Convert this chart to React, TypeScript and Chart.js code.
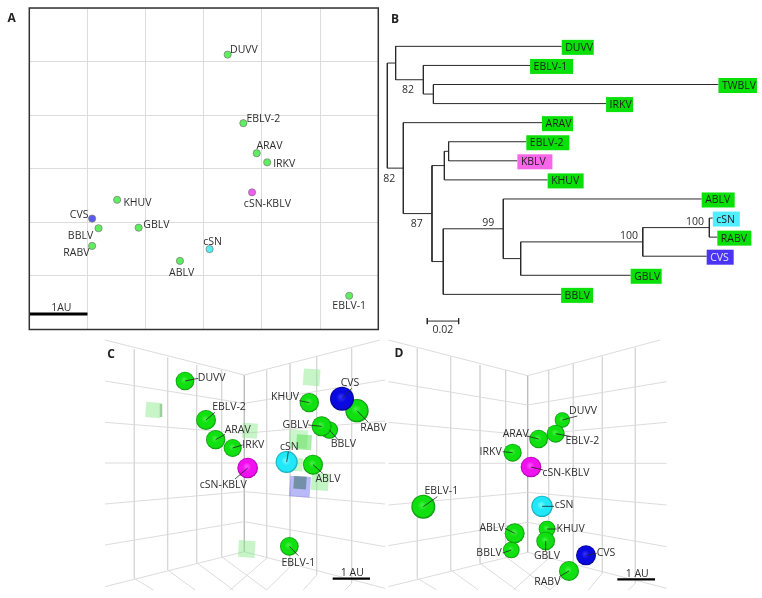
import React, { useEffect, useRef } from "react";
import { Chart, registerables } from "chart.js";

Chart.register(...registerables);

const FONT = '"Open Sans", sans-serif';
const TEXT = "#2e2e2e";
const GREEN = "#5fee5f";

// ---- Panel A: 2D antigenic map (AU)
const mapNames = ["DUVV", "EBLV-2", "ARAV", "IRKV", "cSN-KBLV", "KHUV", "CVS", "BBLV", "GBLV", "RABV", "cSN", "ABLV", "EBLV-1"];
const mapX = [3.41, 3.68, 3.91, 4.09, 3.83, 1.51, 1.08, 1.19, 1.88, 1.08, 3.1, 2.59, 5.5];
const mapY = [5.13, 3.85, 3.29, 3.12, 2.56, 2.42, 2.07, 1.89, 1.9, 1.56, 1.5, 1.28, 0.63];
const mapColors = [GREEN, GREEN, GREEN, GREEN, "#f05cf0", GREEN, "#5a5af0", GREEN, GREEN, GREEN, "#58eef0", GREEN, GREEN];
const mapLabelDx = [16.3, 20, 12.7, 17, 15.3, 20.3, -13, -18, 17.7, -15.7, 3, 1.7, 0];
const mapLabelDy = [-5, -4.3, -7.3, 1.3, 12, 2.7, -4, 7.7, -3, 6.7, -6.7, 12, 10];
const mapScaleBarX = [0, 1];
const mapScaleBarY = 0.29;

// ---- Panel B: phylogeny
const treeNodes = ["root", "a", "DUVV", "b", "EBLV-1", "c", "TWBLV", "IRKV", "d", "ARAV", "e", "f", "g", "EBLV-2", "KBLV", "KHUV", "h", "i", "ABLV", "j", "k", "l", "cSN", "RABV", "CVS", "GBLV", "BBLV"];
const treeParents = [null, "root", "a", "a", "b", "b", "c", "c", "root", "d", "d", "e", "f", "g", "g", "f", "e", "h", "i", "i", "j", "k", "l", "l", "k", "j", "h"];
const treeDepths = [0, 0.0053, 0.1113, 0.023, 0.0911, 0.0294, 0.2113, 0.1396, 0.0102, 0.0987, 0.0285, 0.0364, 0.0391, 0.0887, 0.083, 0.1023, 0.0357, 0.074, 0.2006, 0.0851, 0.163, 0.2055, 0.2077, 0.2106, 0.2038, 0.1553, 0.1109];
const leafBoxWidths: Record<string, number> = { DUVV: 32, "EBLV-1": 43, TWBLV: 38.5, IRKV: 27, ARAV: 31, "EBLV-2": 43, KBLV: 35, KHUV: 36, ABLV: 33, cSN: 27, RABV: 34, CVS: 27, GBLV: 31, BBLV: 32 };
const leafColors: Record<string, string> = { KBLV: "#f766e8", cSN: "#50eeff", CVS: "#4b35f5" };
const bootstrapNodes = ["b", "d", "e", "i", "k", "l"];
const bootstrapValues = ["82", "82", "87", "99", "100", "100"];
const bootstrapDx = [-15.3, -14, -15.3, -15, -13.7, -14.3];
const bootstrapDy = [10.3, 10.7, 10.3, -5.3, -6, -5.7];
const treeScaleStart = 0.0255;
const treeScaleLength = 0.02;
const treeScaleRow = 14.4;

// ---- Panels C, D: projected 3D maps
type Seg = number[];
const gridC: Seg[] = [
  [45, 15, 463, 120], [45, 138, 463, 205], [45, 262, 463, 295], [45, 384, 463, 384], [45, 507, 463, 470], [45, 630, 463, 560], [45, 755, 463, 650],
  [463, 120, 870, 15], [463, 205, 885, 135], [463, 295, 885, 258], [463, 384, 885, 384], [463, 470, 885, 507], [463, 560, 885, 635], [463, 650, 885, 760],
  [133, 42, 133, 730], [233, 68, 233, 705], [320, 90, 320, 683], [395, 105, 395, 665],
  [530, 105, 530, 670], [600, 85, 600, 695], [680, 65, 680, 720], [785, 40, 785, 745],
  [133, 730, 190, 765], [233, 705, 315, 765], [320, 683, 430, 765], [395, 665, 530, 765],
  [530, 670, 420, 765], [600, 695, 530, 765], [680, 720, 640, 765], [785, 745, 765, 765],
];
const cornerC: Seg = [463, 120, 463, 650];
const gridD: Seg[] = [
  [25, 15, 443, 122], [25, 140, 443, 210], [25, 262, 443, 300], [25, 385, 443, 385], [25, 510, 443, 472], [25, 632, 443, 562], [25, 755, 443, 652],
  [443, 122, 840, 15], [443, 210, 860, 140], [443, 300, 860, 262], [443, 385, 860, 385], [443, 472, 860, 510], [443, 562, 860, 635], [443, 652, 860, 760],
  [112, 40, 112, 730], [212, 65, 212, 705], [300, 90, 300, 685], [377, 105, 377, 665],
  [506, 105, 506, 670], [580, 85, 580, 695], [667, 65, 667, 715], [766, 38, 766, 745],
  [112, 730, 170, 765], [212, 705, 295, 765], [300, 685, 410, 765], [377, 665, 510, 765],
  [506, 670, 400, 765], [580, 695, 510, 765], [667, 715, 625, 765], [766, 745, 745, 765],
];
const cornerD: Seg = [443, 122, 443, 652];

const cNames = ["DUVV", "EBLV-2", "ARAV", "IRKV", "cSN-KBLV", "KHUV", "RABV", "CVS", "BBLV", "GBLV", "cSN", "ABLV", "EBLV-1"];
const cX = [285, 348, 377, 428, 473, 658, 801, 756, 718, 695, 590, 669, 598];
const cY = [138, 255, 314, 339, 399, 203, 227, 191, 285, 274, 381, 389, 634];
const cR = [28, 30, 29, 27, 31, 29, 35, 36, 26, 30, 33, 30, 28];
const cLabelX = [365, 417, 443, 490, 400, 585, 850, 780, 760, 617, 598, 714, 625];
const cLabelY = [130, 217, 285, 331, 451, 186, 280, 145, 327, 270, 335, 431, 683];
const cLeadEndX = [325, 375, 405, 458, 435, 628, 835, 785, 745, 655, 595, 698, 625];
const cLeadEndY = [130, 232, 298, 330, 432, 197, 262, 160, 315, 270, 350, 415, 662];

const cCubeX = [190, 665, 480, 625, 642, 618, 690, 470, 630, 630];
const cCubeY = [225, 127, 287, 312, 322, 388, 440, 642, 455, 443];
const cCubeSide = [46, 50, 45, 55, 45, 40, 52, 50, 62, 38];
const cCubeColor = ["#80e88070", "#80e88070", "#80e88070", "#80e88068", "#50e05080", "#80e88070", "#80e88078", "#80e88070", "#6a6af078", "#4a7a7aa0"];
const cCubeSide2: Seg = [213, 207, 213, 246];

const dNames = ["DUVV", "ARAV", "EBLV-2", "IRKV", "cSN-KBLV", "EBLV-1", "cSN", "KHUV", "BBLV", "ABLV", "GBLV", "CVS", "RABV"];
const dX = [547, 476, 527, 398, 453, 130, 486, 501, 394, 404, 497, 618, 567];
const dY = [255, 312, 296, 353, 396, 515, 514, 582, 645, 595, 618, 661, 708];
const dR = [23, 28, 27, 27, 31, 36, 32, 25, 25, 30, 28, 30, 30];
const dLabelX = [609, 407, 607, 332, 558, 184, 552, 572, 327, 336, 501, 678, 502];
const dLabelY = [229, 297, 319, 351, 414, 468, 509, 582, 654, 578, 664, 655, 741];
const dLeadEndX = [592, 440, 575, 368, 490, 172, 522, 530, 368, 375, 497, 650, 538];
const dLeadEndY = [243, 303, 305, 350, 405, 485, 514, 582, 654, 580, 648, 655, 725];

const sphereColors: Record<string, string[]> = {
  "cSN-KBLV": ["#ff50ff", "#f010f0", "#a000a0"],
  CVS: ["#3030f8", "#0a0ae0", "#00008a"],
  cSN: ["#70f8ff", "#20e8f8", "#10a0b0"],
};
const sphereGreen = ["#40f040", "#10e010", "#088a08"];

const annotate = {
  id: "annotate",
  afterDatasetsDraw(chart: any, _a: any, o: any) {
    const { ctx, scales } = chart;
    const sx = scales.x, sy = scales.y;
    ctx.save();
    if (o.frame) {
      const a = chart.chartArea;
      ctx.strokeStyle = "#333";
      ctx.lineWidth = 1.5;
      ctx.strokeRect(a.left, a.top, a.right - a.left, a.bottom - a.top);
    }
    (o.leaders || []).forEach((l: any) => {
      ctx.strokeStyle = "#222";
      ctx.lineWidth = 0.8;
      ctx.beginPath();
      ctx.moveTo(sx.getPixelForValue(l.x1), sy.getPixelForValue(l.y1));
      ctx.lineTo(sx.getPixelForValue(l.x2), sy.getPixelForValue(l.y2));
      ctx.stroke();
    });
    ctx.textBaseline = "middle";
    (o.boxes || []).forEach((b: any) => {
      const px = sx.getPixelForValue(b.x);
      const py = sy.getPixelForValue(b.y) + 1;
      ctx.fillStyle = b.color;
      ctx.fillRect(px, py - 7.5, b.w, 15);
      ctx.fillStyle = b.textColor;
      ctx.font = `10.5px ${FONT}`;
      ctx.textAlign = "left";
      ctx.fillText(b.text, px + 3.5, py + 0.5);
    });
    (o.texts || []).forEach((t: any) => {
      ctx.fillStyle = TEXT;
      ctx.font = `10.5px ${FONT}`;
      ctx.textAlign = "center";
      ctx.fillText(t.text, sx.getPixelForValue(t.x) + (t.dx || 0), sy.getPixelForValue(t.y) + (t.dy || 0));
    });
    if (o.letter) {
      ctx.fillStyle = "#222";
      ctx.font = `bold 12px ${FONT}`;
      ctx.textAlign = "center";
      ctx.fillText(o.letter.text, o.letter.x, o.letter.y);
    }
    ctx.restore();
  },
};

const hiddenAxis = (min: number, max: number, reverse = false) => ({
  type: "linear" as const,
  min,
  max,
  reverse,
  display: false,
});

function segDataset(seg: Seg, color: string, width: number, order: number) {
  return {
    type: "line" as const,
    data: [{ x: seg[0], y: seg[1] }, { x: seg[2], y: seg[3] }],
    borderColor: color,
    borderWidth: width,
    pointRadius: 0,
    fill: false,
    tension: 0,
    order,
  };
}

const baseOptions = (scales: any, padding: any, annotateOpts: any) => ({
  responsive: false,
  animation: false as const,
  events: [] as string[],
  layout: { padding, autoPadding: false },
  scales,
  plugins: { legend: { display: false }, tooltip: { enabled: false }, annotate: annotateOpts },
});

function panelA() {
  return {
    type: "scatter",
    data: {
      datasets: [
        {
          data: mapNames.map((_, i) => ({ x: mapX[i], y: mapY[i] })),
          backgroundColor: mapColors,
          borderColor: "#777",
          borderWidth: 0.7,
          pointRadius: 3.6,
          order: 0,
        },
        segDataset([mapScaleBarX[0], mapScaleBarY, mapScaleBarX[1], mapScaleBarY], "#000", 3, 1),
      ],
    },
    options: baseOptions(
      {
        x: { type: "linear", min: 0, max: 6, ticks: { display: false, stepSize: 1 }, grid: { color: "#dcdcdc", drawTicks: false, lineWidth: 1 }, border: { display: false } },
        y: { type: "linear", min: 0, max: 6, ticks: { display: false, stepSize: 1 }, grid: { color: "#dcdcdc", drawTicks: false, lineWidth: 1 }, border: { display: false } },
      },
      { left: 29.3, top: 8, right: 1.7, bottom: 5.5 },
      {
        frame: true,
        letter: { text: "A", x: 11.7, y: 19 },
        texts: [
          ...mapNames.map((n, i) => ({ text: n, x: mapX[i], y: mapY[i], dx: mapLabelDx[i], dy: mapLabelDy[i] })),
          { text: "1AU", x: 0.55, y: mapScaleBarY, dy: -5.5, dx: 0 },
        ],
      },
    ),
    plugins: [annotate],
  };
}

function panelB() {
  const children = (n: string) => treeNodes.filter((_, i) => treeParents[i] === n);
  const depth = (n: string) => treeDepths[treeNodes.indexOf(n)];
  const rows: Record<string, number> = {};
  let leaf = 0;
  const visit = (n: string): number => {
    const c = children(n);
    if (!c.length) rows[n] = leaf++;
    else {
      const ys = c.map(visit);
      rows[n] = (ys[0] + ys[ys.length - 1]) / 2;
    }
    return rows[n];
  };
  visit("root");
  const segs: Seg[] = [];
  treeNodes.forEach((n, i) => {
    const p = treeParents[i];
    if (p) segs.push([depth(p), rows[n], depth(n), rows[n]]);
    const c = children(n);
    if (c.length) segs.push([depth(n), rows[c[0]], depth(n), rows[c[c.length - 1]]]);
  });
  const barEnd = treeScaleStart + treeScaleLength;
  const barSegs: Seg[] = [
    [treeScaleStart, treeScaleRow, barEnd, treeScaleRow],
    [treeScaleStart, treeScaleRow - 0.16, treeScaleStart, treeScaleRow + 0.16],
    [barEnd, treeScaleRow - 0.16, barEnd, treeScaleRow + 0.16],
  ];
  const leaves = treeNodes.filter((n) => !children(n).length);
  return {
    type: "scatter",
    data: { datasets: [...segs, ...barSegs].map((s) => segDataset(s, "#2a2a2a", 1, 1)) },
    options: baseOptions(
      { x: hiddenAxis(-0.00468, 0.2391), y: hiddenAxis(-2.43, 15.13, true) },
      0,
      {
        letter: { text: "B", x: 15, y: 20 },
        boxes: leaves.map((n) => ({
          text: n,
          x: depth(n),
          y: rows[n],
          w: leafBoxWidths[n],
          color: leafColors[n] || "#08e008",
          textColor: n === "CVS" ? "#e6e6ff" : "#1e1e1e",
        })),
        texts: [
          ...bootstrapNodes.map((n, i) => ({ text: bootstrapValues[i], x: depth(n), y: rows[n], dx: bootstrapDx[i], dy: bootstrapDy[i] })),
          { text: "0.02", x: treeScaleStart + treeScaleLength / 2, y: treeScaleRow, dy: 9 },
        ],
      },
    ),
    plugins: [annotate],
  };
}

function sphereDataset(names: string[], xs: number[], ys: number[], rs: number[]) {
  return {
    data: names.map((_, i) => ({ x: xs[i], y: ys[i] })),
    pointRadius: rs.map((r) => r / 3),
    borderWidth: 0,
    order: 0,
    backgroundColor: (c: any) => {
      if (c.type !== "data") return "#10e010";
      const i = c.dataIndex;
      const col = sphereColors[names[i]] || sphereGreen;
      const { x, y } = c.chart.scales;
      const px = x.getPixelForValue(xs[i]);
      const py = y.getPixelForValue(ys[i]);
      if (!Number.isFinite(px) || !Number.isFinite(py)) return col[1];
      const r = rs[i] / 3;
      const g = c.chart.ctx.createRadialGradient(px - r * 0.1, py - r * 0.15, r * 0.05, px, py, r);
      g.addColorStop(0, col[0]);
      g.addColorStop(0.4, col[1]);
      g.addColorStop(0.82, col[1]);
      g.addColorStop(1, col[2]);
      return g;
    },
  };
}

function panel3D(
  letter: any, grid: Seg[], corner: Seg, names: string[], xs: number[], ys: number[], rs: number[],
  lx: number[], ly: number[], ex: number[], ey: number[], bar: Seg, extras: any[],
) {
  const datasets: any[] = [
    sphereDataset(names, xs, ys, rs),
    ...grid.map((s) => segDataset(s, "#d8d8d8", 0.9, 5)),
    segDataset(corner, "#bcbcbc", 1, 5),
    segDataset(bar, "#000", 2.2, 0),
    ...extras,
  ];
  return {
    type: "scatter",
    data: { datasets },
    options: baseOptions(
      { x: hiddenAxis(0, 900), y: hiddenAxis(0, 789, true) },
      0,
      {
        letter,
        leaders: names.map((_, i) => ({ x1: xs[i], y1: ys[i], x2: ex[i], y2: ey[i] })),
        texts: [
          ...names.map((n, i) => ({ text: n, x: lx[i], y: ly[i] })),
          { text: "1 AU", x: (bar[0] + bar[2]) / 2 + 3, y: bar[1], dy: -5.5 },
        ],
      },
    ),
    plugins: [annotate],
  };
}

function panelC() {
  const cubes = {
    data: cCubeX.map((x, i) => ({ x, y: cCubeY[i] })),
    pointStyle: "rect",
    pointRotation: 4,
    pointRadius: cCubeSide.map((s) => (s / 3) * Math.SQRT1_2),
    backgroundColor: cCubeColor,
    borderWidth: 0,
    order: 2,
  };
  return panel3D({ text: "C", x: 21, y: 20 }, gridC, cornerC, cNames, cX, cY, cR, cLabelX, cLabelY, cLeadEndX, cLeadEndY, [728, 731, 840, 731], [cubes, segDataset(cCubeSide2, "#a8c4a8", 2.5, 2)]);
}

function panelD() {
  return panel3D({ text: "D", x: 19, y: 19 }, gridD, cornerD, dNames, dX, dY, dR, dLabelX, dLabelY, dLeadEndX, dLeadEndY, [712, 733, 825, 733], []);
}

const panels = [
  { make: panelA, left: 0, top: 0, width: 380, height: 335 },
  { make: panelB, left: 380, top: 0, width: 382, height: 335 },
  { make: panelC, left: 90, top: 335, width: 300, height: 263 },
  { make: panelD, left: 380, top: 335, width: 300, height: 263 },
];

function Panel({ p }: { p: (typeof panels)[number] }) {
  const ref = useRef<HTMLCanvasElement>(null);
  useEffect(() => {
    const chart = new Chart(ref.current as HTMLCanvasElement, p.make() as any);
    return () => chart.destroy();
  }, []);
  return (
    <canvas
      ref={ref}
      width={p.width}
      height={p.height}
      style={{ position: "absolute", left: p.left, top: p.top, width: p.width, height: p.height }}
    />
  );
}

export default function App() {
  return (
    <div style={{ position: "fixed", left: 0, top: 0, width: 762, height: 598, background: "#fff", overflow: "hidden" }}>
      {panels.map((p, i) => (
        <Panel key={i} p={p} />
      ))}
    </div>
  );
}
